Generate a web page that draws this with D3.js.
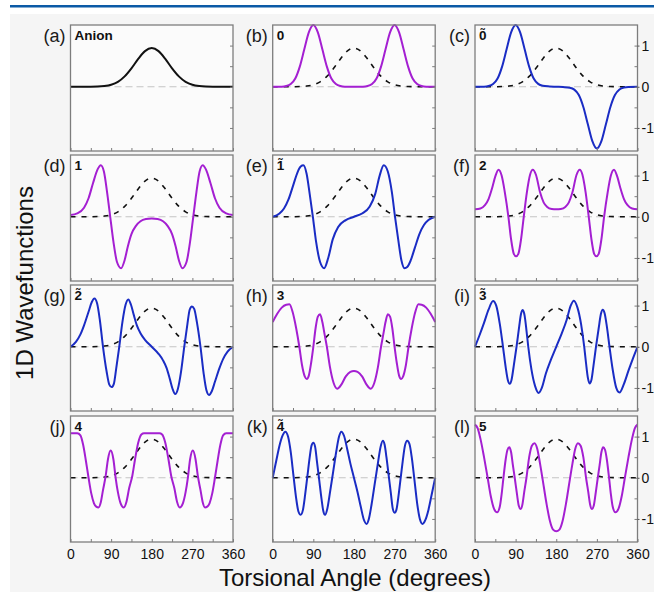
<!DOCTYPE html>
<html><head><meta charset="utf-8">
<script src="https://cdn.jsdelivr.net/npm/d3@7"></script>
<style>body{margin:0;background:#fff} svg{display:block}</style>
</head><body><svg id="c" width="654" height="592"></svg>
<script>
// ---------------- data ----------------
const angleTicks = [0, 90, 180, 270, 360];
const minorAngleTicks = [0, 45, 90, 135, 180, 225, 270, 315, 360];
const yTickLabels = [1, 0, -1];
const yMinorTicks = [-1, -0.5, 0, 0.5, 1];
const panelLetters = ["(a)","(b)","(c)","(d)","(e)","(f)","(g)","(h)","(i)","(j)","(k)","(l)"];
const stateNames = ["Anion","0","0\u0303","1","1\u0303","2","2\u0303","3","3\u0303","4","4\u0303","5"];
const stateTilde = [false,false,true,false,true,false,true,false,true,false,true,false];
const xTitle = "Torsional Angle (degrees)";
const yTitle = "1D Wavefunctions";

// [angle (deg), value]
const anion = [[0,0],[30,0],[60,0.005],[75,0.017],[90,0.049],[105,0.12],[120,0.253],[135,0.448],[150,0.677],[165,0.866],[180,0.94],[195,0.866],[210,0.677],[225,0.448],[240,0.253],[255,0.12],[270,0.049],[285,0.017],[300,0.005],[330,0],[360,0]];

const psi0 = [[0,0],[20,0.003],[30,0.017],[40,0.066],[50,0.2],[60,0.49],[70,0.91],[80,1.32],[90,1.5],[100,1.32],[110,0.91],[120,0.49],[130,0.2],[140,0.066],[150,0.017],[160,0.003],[180,0],[200,0.003],[210,0.017],[220,0.066],[230,0.2],[240,0.49],[250,0.91],[260,1.32],[270,1.5],[280,1.32],[290,0.91],[300,0.49],[310,0.2],[320,0.066],[330,0.017],[340,0.003],[360,0]];

const psi0t = [[0,0],[20,0.003],[30,0.017],[40,0.066],[50,0.2],[60,0.49],[70,0.91],[80,1.32],[90,1.5],[100,1.32],[110,0.91],[120,0.49],[130,0.2],[140,0.07],[150,0.025],[165,0.008],[180,0],[195,-0.008],[210,-0.025],[220,-0.07],[230,-0.2],[240,-0.49],[250,-0.91],[260,-1.32],[270,-1.5],[280,-1.32],[290,-0.91],[300,-0.49],[310,-0.2],[320,-0.066],[330,-0.017],[340,-0.003],[360,0]];

const psi1 = [[0,0.04],[15,0.08],[30,0.22],[40,0.45],[50,0.82],[60,1.15],[67,1.25],[74,1.1],[81,0.6],[88,0],[95,-0.6],[103,-1.1],[112,-1.25],[120,-1.05],[127,-0.72],[135,-0.42],[145,-0.22],[155,-0.11],[167,-0.055],[180,-0.04],[193,-0.055],[205,-0.11],[215,-0.22],[225,-0.42],[233,-0.72],[240,-1.05],[248,-1.25],[257,-1.1],[265,-0.6],[272,0],[279,0.6],[286,1.1],[293,1.25],[300,1.15],[310,0.82],[320,0.45],[330,0.22],[345,0.08],[360,0.04]];

const psi1t = [[0,0],[15,0.08],[25,0.2],[35,0.42],[45,0.75],[55,1.08],[62,1.22],[68,1.25],[75,1.05],[82,0.55],[89,0],[96,-0.6],[105,-1.1],[114,-1.25],[123,-1.0],[133,-0.55],[145,-0.25],[162,-0.08],[180,0],[198,0.08],[215,0.25],[227,0.55],[237,1.0],[246,1.25],[255,1.1],[264,0.6],[271,0],[278,-0.55],[285,-1.05],[292,-1.25],[298,-1.22],[305,-1.08],[315,-0.75],[325,-0.42],[335,-0.2],[345,-0.08],[360,0]];

const psi2 = [[0,0.18],[12,0.2],[22,0.28],[30,0.43],[38,0.7],[45,0.98],[52,1.14],[59,1.0],[66,0.6],[74,0],[80,-0.55],[86,-0.9],[91,-0.96],[96,-0.9],[102,-0.55],[108,0],[115,0.6],[122,1.02],[128,1.14],[135,1.02],[144,0.6],[152,0.35],[160,0.24],[170,0.19],[180,0.18],[190,0.19],[200,0.24],[208,0.35],[216,0.6],[225,1.02],[232,1.14],[238,1.02],[245,0.6],[252,0],[258,-0.55],[264,-0.9],[269,-0.96],[274,-0.9],[280,-0.55],[286,0],[294,0.6],[301,1.0],[308,1.14],[315,0.98],[322,0.7],[330,0.43],[338,0.28],[348,0.2],[360,0.18]];

const psi2t = [[0,0],[12,0.12],[22,0.3],[30,0.52],[40,0.85],[47,1.08],[53,1.17],[59,1.05],[65,0.65],[72,0],[80,-0.6],[86,-0.92],[91,-0.98],[96,-0.9],[101,-0.55],[108,0],[115,0.6],[122,1.02],[128,1.15],[134,1.02],[140,0.78],[147,0.52],[155,0.33],[165,0.17],[180,0],[195,-0.17],[205,-0.33],[213,-0.52],[220,-0.78],[226,-1.02],[232,-1.15],[238,-1.02],[245,-0.6],[252,0],[259,0.55],[264,0.9],[269,0.98],[274,0.92],[280,0.6],[288,0],[295,-0.65],[301,-1.05],[307,-1.17],[313,-1.08],[320,-0.85],[330,-0.52],[338,-0.3],[348,-0.12],[360,0]];

const psi3 = [[0,0.6],[10,0.8],[20,0.95],[30,1.02],[37,1.03],[44,0.85],[52,0.45],[59,0],[65,-0.45],[71,-0.72],[75.5,-0.78],[80,-0.7],[85,-0.4],[90,0],[95,0.45],[100,0.73],[105,0.79],[110,0.6],[115,0.3],[120,0],[127,-0.5],[135,-0.88],[143,-1.02],[152,-0.92],[162,-0.72],[172,-0.61],[180,-0.59],[188,-0.61],[198,-0.72],[208,-0.92],[217,-1.02],[225,-0.88],[233,-0.5],[240,0],[245,0.3],[250,0.6],[255,0.79],[260,0.73],[265,0.45],[270,0],[275,-0.4],[280,-0.7],[284.5,-0.78],[289,-0.72],[295,-0.45],[301,0],[308,0.45],[316,0.85],[323,1.03],[330,1.02],[340,0.95],[350,0.8],[360,0.6]];

const psi3t = [[0,0],[10,0.28],[20,0.58],[30,0.9],[40,1.11],[47,1.0],[55,0.55],[62,0],[68,-0.5],[73,-0.82],[77,-0.9],[81,-0.8],[86,-0.45],[92,0],[98,0.5],[102,0.8],[106,0.89],[110,0.75],[114,0.4],[118,0],[125,-0.55],[133,-0.95],[141,-1.12],[148,-1.0],[157,-0.65],[168,-0.32],[180,0],[192,0.32],[203,0.65],[212,1.0],[219,1.12],[227,0.95],[235,0.55],[242,0],[246,-0.4],[250,-0.75],[254,-0.89],[258,-0.8],[262,-0.5],[268,0],[274,0.45],[279,0.8],[283,0.9],[287,0.82],[292,0.5],[298,0],[305,-0.55],[313,-1.0],[320,-1.11],[330,-0.9],[340,-0.58],[350,-0.28],[360,0]];

const psi4 = [[0,1.08],[15,1.08],[22,1.03],[28,0.8],[34,0.42],[40,0],[46,-0.38],[52,-0.62],[57,-0.7],[62,-0.72],[67,-0.6],[72,-0.3],[78,0.05],[83,0.45],[89,0.66],[95,0.45],[100,0],[105,-0.35],[111,-0.62],[118,-0.72],[124,-0.58],[130,-0.25],[137,0.05],[143,0.45],[150,0.85],[157,1.05],[163,1.08],[180,1.08],[197,1.08],[203,1.05],[210,0.85],[217,0.45],[223,0.05],[230,-0.25],[236,-0.58],[242,-0.72],[249,-0.62],[255,-0.35],[260,0],[265,0.45],[271,0.66],[277,0.45],[282,0.05],[288,-0.3],[293,-0.6],[298,-0.72],[303,-0.7],[308,-0.62],[314,-0.38],[320,0],[326,0.42],[332,0.8],[338,1.03],[345,1.08],[360,1.08]];

const psi4t = [[0,0],[8,0.42],[15,0.78],[22,1.03],[28,1.12],[34,1.0],[40,0.62],[46,0.05],[52,-0.5],[57,-0.82],[62,-0.9],[67,-0.78],[72,-0.4],[77,0.05],[82,0.5],[86,0.78],[90,0.85],[94,0.75],[98,0.4],[103,-0.05],[108,-0.5],[112,-0.8],[116,-0.9],[121,-0.75],[127,-0.35],[134,0.15],[141,0.65],[147,1.0],[152,1.12],[158,1.02],[165,0.7],[172,0.35],[180,0],[188,-0.35],[195,-0.7],[202,-1.02],[208,-1.12],[213,-1.0],[219,-0.65],[226,-0.15],[233,0.35],[239,0.75],[244,0.9],[248,0.8],[252,0.5],[257,0.05],[262,-0.4],[266,-0.75],[270,-0.85],[274,-0.78],[278,-0.5],[283,-0.05],[288,0.4],[293,0.78],[298,0.9],[303,0.82],[308,0.5],[314,-0.05],[320,-0.62],[326,-1.0],[332,-1.12],[338,-1.03],[345,-0.78],[352,-0.42],[360,0]];

const psi5 = [[0,1.29],[6,1.2],[12,0.95],[20,0.5],[28,0],[35,-0.45],[42,-0.75],[49,-0.84],[55,-0.7],[59,-0.4],[63,0],[68,0.45],[72,0.68],[76,0.74],[80,0.62],[84,0.3],[88,0],[93,-0.4],[97,-0.68],[101,-0.76],[105,-0.65],[109,-0.35],[114,0],[120,0.5],[126,0.78],[132,0.84],[138,0.7],[144,0.35],[150,-0.05],[158,-0.6],[166,-1.05],[173,-1.26],[180,-1.3],[187,-1.26],[194,-1.05],[202,-0.6],[210,-0.05],[216,0.35],[222,0.7],[228,0.84],[234,0.78],[240,0.5],[246,0],[251,-0.35],[255,-0.65],[259,-0.76],[263,-0.68],[267,-0.4],[272,0],[276,0.3],[280,0.62],[284,0.74],[288,0.68],[292,0.45],[297,0],[301,-0.4],[305,-0.7],[311,-0.84],[318,-0.75],[325,-0.45],[332,0],[340,0.5],[348,0.95],[354,1.2],[360,1.29]];

// ---------------- drawing ----------------
const seriesList = [anion, psi0, psi0t, psi1, psi1t, psi2, psi2t, psi3, psi3t, psi4, psi4t, psi5];
const FONT = "'Liberation Sans', Arial, Helvetica, sans-serif";
const PURPLE = "#a41fd2", BLUE = "#1a2cc4";
const colX = [70.5, 272.7, 475], rowY = [25, 155, 285, 416];
const PW = 162.5, PH = 126;

const svg = d3.select("#c");
svg.append("rect").attr("x",0).attr("y",0).attr("width",654).attr("height",592).attr("fill","#ffffff");
svg.append("rect").attr("x",10).attr("y",14).attr("width",644).attr("height",578).attr("fill","#f5f5f5");
svg.append("line").attr("x1",10).attr("x2",654).attr("y1",6.2).attr("y2",6.2)
  .attr("stroke","#0b5aa6").attr("stroke-width",2.4);

const x = d3.scaleLinear().domain([0,360]).range([0,PW]);
const y = d3.scaleLinear().domain([-1.56,1.5]).range([PH,0]);
const line = d3.line().x(d=>x(d[0])).y(d=>y(d[1])).curve(d3.curveMonotoneX);

seriesList.forEach((data,i)=>{
  const col = i%3, row = Math.floor(i/3);
  const g = svg.append("g").attr("transform",`translate(${colX[col]},${rowY[row]})`);
  g.append("rect").attr("width",PW).attr("height",PH).attr("fill","#fbfbfb");
  // zero line
  g.append("line").attr("x1",x(0)).attr("x2",x(360)).attr("y1",y(0)).attr("y2",y(0))
    .attr("stroke","#c4c4c4").attr("stroke-width",1).attr("stroke-dasharray","7,4");
  if(i>0){
    g.append("path").datum(anion).attr("d",line).attr("fill","none")
      .attr("stroke","#111").attr("stroke-width",1.6).attr("stroke-dasharray","5,6");
  }
  const color = i===0 ? "#111" : (stateTilde[i] ? BLUE : PURPLE);
  g.append("path").datum(data).attr("d",line).attr("fill","none")
    .attr("stroke",color).attr("stroke-width",2).attr("stroke-linejoin","round");
  // border
  g.append("rect").attr("width",PW).attr("height",PH).attr("fill","none")
    .attr("stroke","#7d7d7d").attr("stroke-width",1.3);
  // inward ticks
  const bt = g.append("g").attr("transform",`translate(0,${PH})`)
    .call(d3.axisBottom(x).tickValues(minorAngleTicks).tickSize(-3).tickFormat(""));
  bt.select(".domain").remove();
  bt.selectAll("line").attr("stroke","#7d7d7d");
  const rt = g.append("g").attr("transform",`translate(${PW},0)`)
    .call(d3.axisRight(y).tickValues(yMinorTicks).tickSize(-3).tickFormat(""));
  rt.select(".domain").remove();
  rt.selectAll("line").attr("stroke","#7d7d7d");
  if(col===2){
    const rl = g.append("g").attr("transform",`translate(${PW},0)`)
      .call(d3.axisRight(y).tickValues(yTickLabels).tickSize(2).tickPadding(2).tickFormat(d=>String(d)));
    rl.select(".domain").remove();
    rl.selectAll("line").attr("stroke","#555");
    rl.selectAll("text").attr("font-family",FONT).attr("font-size",14).attr("fill","#111");
  }
  if(row===3){
    const bl = g.append("g").attr("transform",`translate(0,${PH})`)
      .call(d3.axisBottom(x).tickValues(angleTicks).tickSize(0).tickPadding(7).tickFormat(d=>String(d)));
    bl.select(".domain").remove();
    bl.selectAll("text").attr("font-family",FONT).attr("font-size",14).attr("fill","#111");
  }
  // panel letter
  g.append("text").attr("x",-5).attr("y",17).attr("text-anchor","end")
    .attr("font-family",FONT).attr("font-size",18).attr("fill","#1a1a1a").text(panelLetters[i]);
  // state label (tilde is a combining character in the same string)
  g.append("text").attr("x",4).attr("y",stateTilde[i] ? 15 : 14.5)
    .attr("font-family",FONT).attr("font-weight","bold")
    .attr("font-size",13.5).attr("fill","#111").text(stateNames[i]);
});

svg.append("text").attr("x",355).attr("y",586).attr("text-anchor","middle")
  .attr("font-family",FONT).attr("font-size",24).attr("fill","#111").text(xTitle);
svg.append("text").attr("transform","translate(33,283) rotate(-90)").attr("text-anchor","middle")
  .attr("font-family",FONT).attr("font-size",24).attr("fill","#111").text(yTitle);
</script></body></html>
